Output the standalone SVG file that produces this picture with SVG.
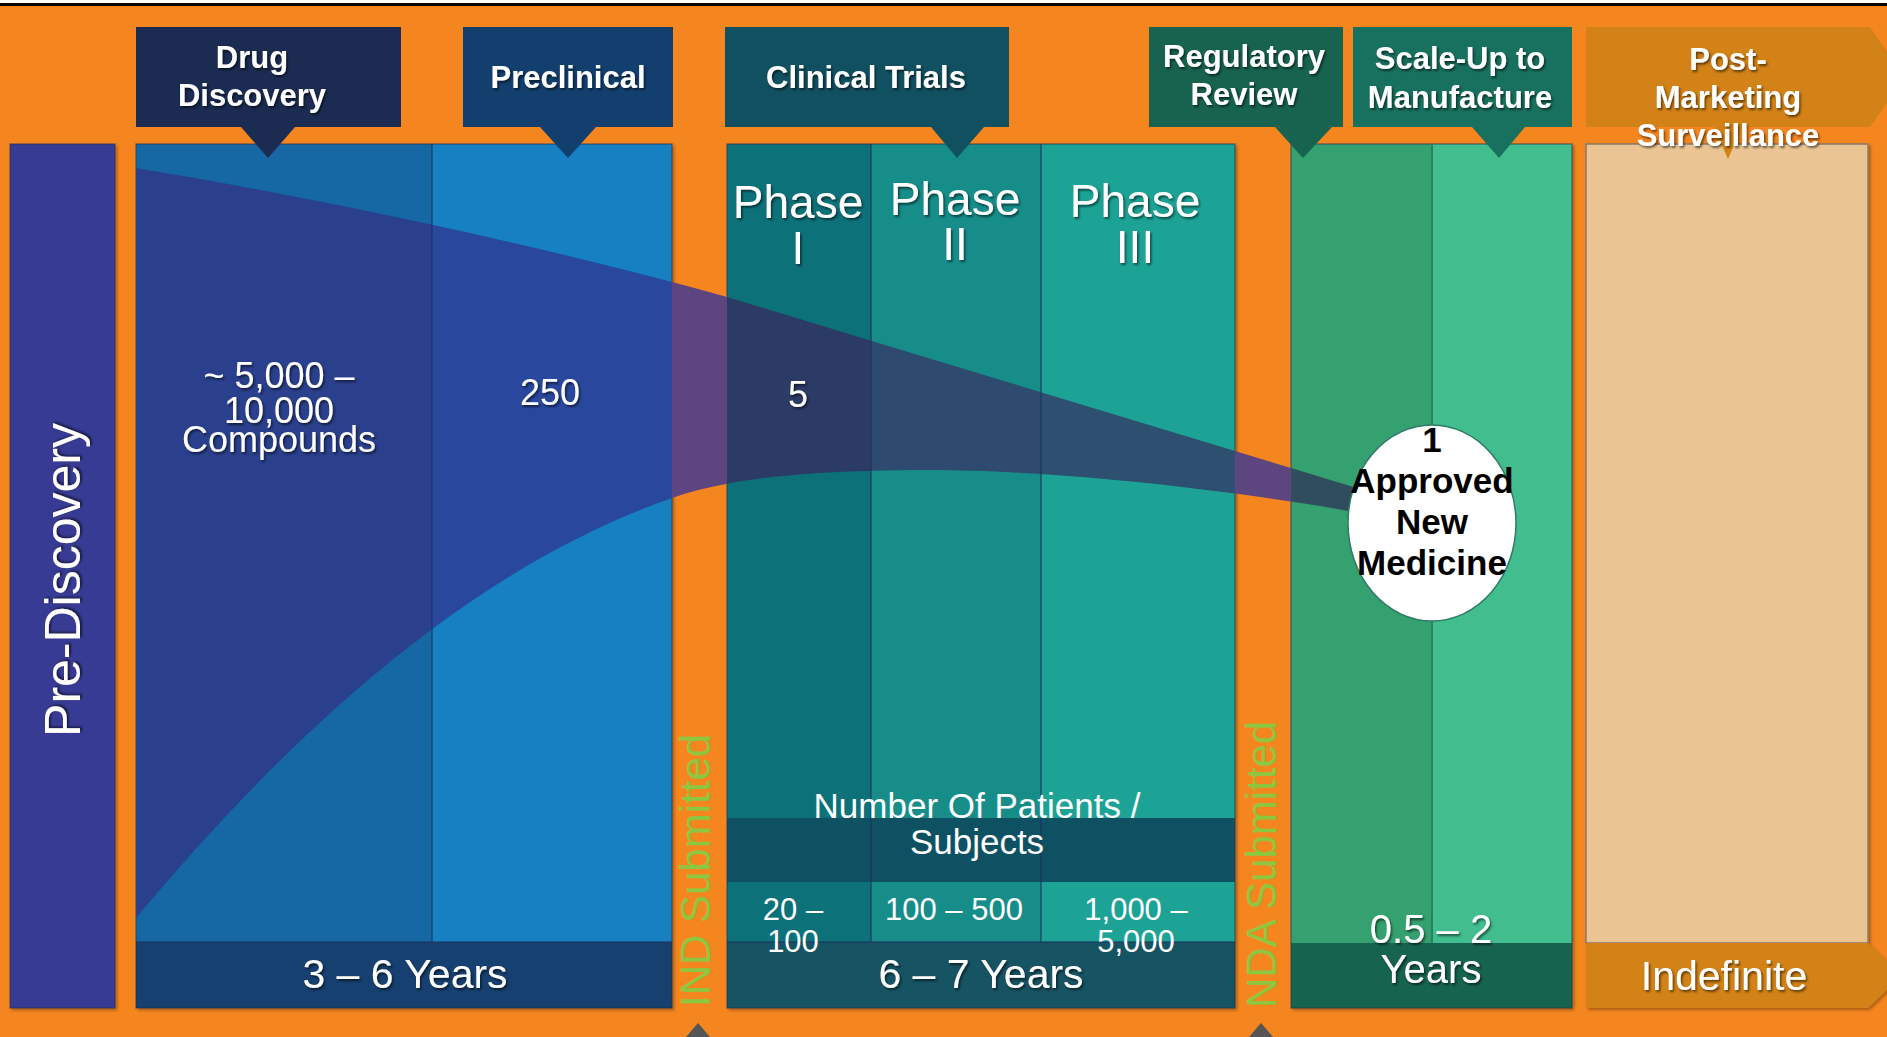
<svg xmlns="http://www.w3.org/2000/svg" width="1887" height="1037" viewBox="0 0 1887 1037">
<defs>
<style>
.t{font-family:"Liberation Sans",Arial,sans-serif;fill:#fff;text-anchor:middle}
.hb{font-weight:bold;font-size:31px}
.ph{font-size:46px}
.num{font-size:36px}
.cell{font-size:31px}
.yr{font-size:41px}
.sub{font-family:"Liberation Sans",Arial,sans-serif;fill:#8dc63f;font-size:42px}
.ell{font-family:"Liberation Sans",Arial,sans-serif;font-weight:bold;font-size:35px;fill:#000;text-anchor:middle}
.div{stroke:#1c3560;stroke-opacity:0.55;stroke-width:2}
.edge{stroke:#1f3550;stroke-opacity:0.5;stroke-width:1.5}
</style>
<filter id="ts" x="-10%" y="-20%" width="130%" height="150%">
<feDropShadow dx="1.5" dy="2" stdDeviation="1" flood-color="#000" flood-opacity="0.55"/>
</filter>
<filter id="bs" x="-5%" y="-5%" width="110%" height="110%">
<feDropShadow dx="2" dy="2" stdDeviation="1.5" flood-color="#000" flood-opacity="0.3"/>
</filter>
<path id="funnel" d="M136,918 C316,702 492,561 672,498 C740,474 840,470 930,470 C1050,470 1220,488 1360,513 L1360,489 L727,297 C560,250 330,200 136,168 Z"/>
<clipPath id="c1"><rect x="136" y="100" width="296" height="850"/></clipPath>
<clipPath id="c2"><rect x="432" y="100" width="240" height="850"/></clipPath>
<clipPath id="c3"><rect x="672" y="100" width="55" height="850"/></clipPath>
<clipPath id="c4"><rect x="727" y="100" width="144" height="850"/></clipPath>
<clipPath id="c5"><rect x="871" y="100" width="170" height="850"/></clipPath>
<clipPath id="c6"><rect x="1041" y="100" width="194" height="850"/></clipPath>
<clipPath id="c7"><rect x="1235" y="100" width="56" height="850"/></clipPath>
<clipPath id="c8"><rect x="1291" y="100" width="100" height="850"/></clipPath>
</defs>

<rect x="0" y="0" width="1887" height="1037" fill="#f5861f"/>
<rect x="0" y="0" width="1887" height="3" fill="#fff"/>
<rect x="0" y="3" width="1887" height="3" fill="#000"/>

<!-- Columns -->
<g id="pre-discovery" filter="url(#bs)">
<rect x="10" y="144" width="105" height="864" fill="#383a93" class="edge"/>
</g>
<g id="discovery-preclinical-columns" filter="url(#bs)">
<rect x="136" y="144" width="296" height="798" fill="#1867a4"/>
<rect x="432" y="144" width="240" height="798" fill="#1680c2"/>
<rect x="136" y="942" width="536" height="66" fill="#123f6f"/>
<rect x="136" y="144" width="536" height="864" fill="none" class="edge"/>
</g>
<g id="clinical-columns" filter="url(#bs)">
<rect x="727" y="144" width="144" height="798" fill="#10717a"/>
<rect x="871" y="144" width="170" height="798" fill="#198d89"/>
<rect x="1041" y="144" width="194" height="798" fill="#1ca396"/>
<rect x="727" y="818" width="508" height="64" fill="#115163"/>
<rect x="727" y="942" width="508" height="66" fill="#125264"/>
<rect x="727" y="144" width="508" height="864" fill="none" class="edge"/>
</g>
<g id="approval-columns" filter="url(#bs)">
<rect x="1291" y="144" width="141" height="799" fill="#36a070"/>
<rect x="1432" y="144" width="140" height="799" fill="#42bd8e"/>
<rect x="1291" y="943" width="281" height="65" fill="#17644f"/>
<rect x="1291" y="144" width="281" height="864" fill="none" class="edge"/>
</g>
<g id="post-marketing-column" filter="url(#bs)">
<rect x="1586" y="144" width="282" height="799" fill="#eac593" stroke="#8a7b6a" stroke-width="1.5"/>
<path d="M1586,943 H1868 L1902,975.5 L1868,1008 H1586 Z" fill="#d28216"/>
</g>

<!-- Funnel -->
<g id="funnel-shape">
<use href="#funnel" fill="#2a408d" clip-path="url(#c1)"/>
<use href="#funnel" fill="#29479c" clip-path="url(#c2)"/>
<use href="#funnel" fill="#5d4580" clip-path="url(#c3)"/>
<use href="#funnel" fill="#2c3b65" clip-path="url(#c4)"/>
<use href="#funnel" fill="#2e4a6e" clip-path="url(#c5)"/>
<use href="#funnel" fill="#2d5070" clip-path="url(#c6)"/>
<use href="#funnel" fill="#5d4580" clip-path="url(#c7)"/>
<use href="#funnel" fill="#2f4d5c" clip-path="url(#c8)"/>
</g>

<!-- Dividers -->
<g id="dividers">
<line x1="432" y1="144" x2="432" y2="942" class="div"/>
<line x1="871" y1="144" x2="871" y2="942" class="div"/>
<line x1="1041" y1="144" x2="1041" y2="942" class="div"/>
<line x1="727" y1="942" x2="1235" y2="942" class="div"/>
<line x1="136" y1="942" x2="672" y2="942" class="div"/>
<line x1="1432" y1="144" x2="1432" y2="943" stroke="#2a8062" stroke-width="2"/>
</g>

<!-- Headers -->
<g id="hdr-drug-discovery">
<path d="M136,27 H401 V127 H295 L268,158 L241,127 H136 Z" fill="#1b2b52"/>
<text class="t hb" filter="url(#ts)"><tspan x="252" y="68">Drug</tspan><tspan x="252" y="106">Discovery</tspan></text>
</g>
<g id="hdr-preclinical">
<path d="M463,27 H673 V127 H596 L568,158 L540,127 H463 Z" fill="#123f6e"/>
<text class="t hb" x="568" y="88" filter="url(#ts)">Preclinical</text>
</g>
<g id="hdr-clinical-trials">
<path d="M725,27 H1009 V127 H984 L957,158 L931,127 H725 Z" fill="#115061"/>
<text class="t hb" x="866" y="88" filter="url(#ts)">Clinical Trials</text>
</g>
<g id="hdr-regulatory-review">
<path d="M1149,27 H1343 V127 H1332 L1303,158 L1275,127 H1149 Z" fill="#17634f"/>
<text class="t hb" filter="url(#ts)"><tspan x="1244" y="67">Regulatory</tspan><tspan x="1244" y="105">Review</tspan></text>
</g>
<g id="hdr-scale-up">
<path d="M1353,27 H1572 V127 H1525 L1499,158 L1472,127 H1353 Z" fill="#18705f"/>
<text class="t hb" filter="url(#ts)"><tspan x="1460" y="69">Scale-Up to</tspan><tspan x="1460" y="108">Manufacture</tspan></text>
</g>
<g id="hdr-post-marketing">
<path d="M1586,27 H1870 L1905,77 L1870,127 H1742 L1728,159 L1714,127 H1586 Z" fill="#d28216"/>
<text class="t hb" filter="url(#ts)"><tspan x="1728" y="70">Post-</tspan><tspan x="1728" y="108">Marketing</tspan><tspan x="1728" y="146">Surveillance</tspan></text>
</g>

<!-- Column texts -->
<g id="lbl-pre-discovery">
<text class="t" font-size="50" transform="translate(80,580) rotate(-90)" filter="url(#ts)">Pre-Discovery</text>
</g>
<g id="lbl-compounds">
<text class="t num" filter="url(#ts)"><tspan x="279" y="388">~ 5,000 –</tspan><tspan x="279" y="423">10,000</tspan><tspan x="279" y="452">Compounds</tspan></text>
</g>
<g id="lbl-250"><text class="t num" x="550" y="405" filter="url(#ts)">250</text></g>
<g id="lbl-5"><text class="t num" x="798" y="407" filter="url(#ts)">5</text></g>
<g id="phase-1"><text class="t ph" filter="url(#ts)"><tspan x="798" y="218">Phase</tspan><tspan x="798" y="264">I</tspan></text></g>
<g id="phase-2"><text class="t ph" filter="url(#ts)"><tspan x="955" y="215">Phase</tspan><tspan x="955" y="260">II</tspan></text></g>
<g id="phase-3"><text class="t ph" filter="url(#ts)"><tspan x="1135" y="217">Phase</tspan><tspan x="1135" y="263">III</tspan></text></g>
<g id="patients">
<text class="t" font-size="35"><tspan x="977" y="818">Number Of Patients /</tspan><tspan x="977" y="854">Subjects</tspan></text>
<text class="t cell"><tspan x="793" y="920">20 –</tspan><tspan x="793" y="952">100</tspan></text>
<text class="t cell" x="954" y="920">100 – 500</text>
<text class="t cell"><tspan x="1136" y="920">1,000 –</tspan><tspan x="1136" y="952">5,000</tspan></text>
</g>
<g id="dur-3-6"><text class="t yr" x="405" y="988" filter="url(#ts)">3 – 6 Years</text></g>
<g id="dur-6-7"><text class="t yr" x="981" y="988" filter="url(#ts)">6 – 7 Years</text></g>
<g id="dur-0.5-2"><text class="t" font-size="40" filter="url(#ts)"><tspan x="1431" y="943">0.5 – 2</tspan><tspan x="1431" y="983">Years</tspan></text></g>
<g id="dur-indefinite"><text class="t yr" x="1724" y="990" filter="url(#ts)">Indefinite</text></g>

<g id="ind-submitted"><text class="sub" transform="translate(710,1007) rotate(-90)">IND Submitted</text></g>
<g id="nda-submitted"><text class="sub" transform="translate(1276,1008) rotate(-90)">NDA Submitted</text></g>

<g id="approved-medicine">
<ellipse cx="1432" cy="523" rx="84" ry="98" fill="#fff" stroke="#2e7a68" stroke-width="1.5"/>
<text class="ell"><tspan x="1432" y="452">1</tspan><tspan x="1432" y="493">Approved</tspan><tspan x="1432" y="534">New</tspan><tspan x="1432" y="575">Medicine</tspan></text>
</g>

<g id="connectors">
<path d="M686,1037 L698,1023 L710,1037 Z" fill="#555"/>
<path d="M1249,1037 L1261,1023 L1273,1037 Z" fill="#555"/>
</g>
</svg>
